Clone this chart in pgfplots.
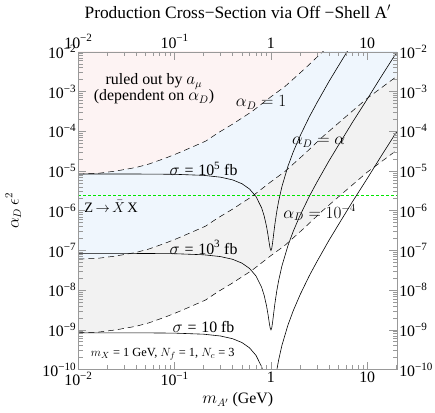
\documentclass[border=0pt]{standalone}
\usepackage{fontspec}
\setmainfont{Liberation Serif}
\usepackage{pgfplots}
\pgfplotsset{compat=1.18}
\usepgfplotslibrary{fillbetween}
\usepackage{pgfplotstable}
\definecolor{rulepink}{HTML}{FDF3F3}
\definecolor{paleblue}{HTML}{EFF6FD}
\definecolor{palegrey}{HTML}{F2F2F2}
\definecolor{framegrey}{HTML}{999999}
\definecolor{zgreen}{RGB}{0,230,0}

% log10 of m_A' (GeV) and of alpha_D eps^2
\pgfplotstableread{
lx      d1      d2      d3
-2.000  -5.075  -7.215  -9.075
-1.800  -5.060  -7.200  -9.060
-1.608  -5.000  -7.140  -9.000
-1.400  -4.910  -7.050  -8.910
-1.268  -4.825  -6.965  -8.825
-1.100  -4.680  -6.820  -8.680
-0.990  -4.575  -6.715  -8.575
-0.850  -4.430  -6.570  -8.430
-0.680  -4.250  -6.390  -8.250
-0.550  -4.040  -6.180  -8.040
-0.402  -3.825  -5.965  -7.825
-0.196  -3.500  -5.640  -7.500
 0.000  -3.130  -5.270  -7.130
 0.144  -2.875  -5.015  -6.875
 0.351  -2.425  -4.565  -6.425
 0.536  -2.000  -4.140  -6.000
 0.750  -1.550  -3.690  -5.550
 1.000  -1.030  -3.170  -5.030
 1.310  -0.470  -2.610  -4.470
}\dashdata

\pgfplotstableread{
lx       s5      s3      s1
-2.000   -5.075  -7.075  -9.075
-1.699   -5.075  -7.075  -9.075
-1.301   -5.077  -7.077  -9.077
-1.000   -5.083  -7.083  -9.083
-0.699   -5.110  -7.110  -9.110
-0.523   -5.156  -7.156  -9.156
-0.398   -5.224  -7.224  -9.224
-0.301   -5.321  -7.321  -9.321
-0.222   -5.455  -7.455  -9.455
-0.155   -5.645  -7.645  -9.645
-0.097   -5.929  -7.929  -9.929
-0.0706  -6.131  -8.131  -10.131
-0.0458  -6.398  -8.398  -10.398
-0.0315  -6.599  -8.599  -10.599
-0.0177  -6.821  -8.821  -10.821
-0.0088  -6.947  -8.947  -10.947
 0.0000  -7.001  -9.001  -11.001
 0.0086  -6.946  -8.946  -10.946
 0.0170  -6.809  -8.809  -10.809
 0.0294  -6.562  -8.562  -10.562
 0.0414  -6.331  -8.331  -10.331
 0.0607  -6.016  -8.016  -10.016
 0.0792  -5.767  -7.767  -9.767
 0.1139  -5.392  -7.392  -9.392
 0.1761  -4.883  -6.883  -8.883
 0.2304  -4.526  -6.526  -8.526
 0.3010  -4.125  -6.125  -8.125
 0.3979  -3.640  -5.640  -7.640
 0.4771  -3.284  -5.284  -7.284
 0.6021  -2.748  -4.748  -6.748
 0.6990  -2.360  -4.360  -6.360
 0.8451  -1.780  -3.780  -5.780
 1.0000  -1.190  -3.190  -5.190
 1.1461  -0.620  -2.620  -4.620
 1.3010  -0.030  -2.030  -4.030
 1.3100  -0.020  -2.020  -4.020
}\sigdata

\pgfplotsset{
  mmaframe/.style={
    scale only axis, width=321pt, height=320pt,
    xmin=-2, xmax=1.31, ymin=-10, ymax=-2,
    axis line style={framegrey, line width=0.6pt},
    tick style={framegrey, line width=0.6pt},
    major tick length=8pt, minor tick length=4.5pt,
    every tick label/.append style={inner sep=2pt},
    xtick={-2,-1,0,1},
    xticklabels={10\textsuperscript{−2},10\textsuperscript{−1},1,10},
    ytick={-10,-9,...,-2},
    yticklabels={10\textsuperscript{−10},10\textsuperscript{−9},10\textsuperscript{−8},10\textsuperscript{−7},10\textsuperscript{−6},10\textsuperscript{−5},10\textsuperscript{−4},10\textsuperscript{−3},10\textsuperscript{−2}},
    minor xtick={-1.69897,-1.52288,-1.39794,-1.30103,-1.22185,-1.15490,-1.09691,-1.04576,
      -0.69897,-0.52288,-0.39794,-0.30103,-0.22185,-0.15490,-0.09691,-0.04576,
      0.30103,0.47712,0.60206,0.69897,0.77815,0.84510,0.90309,0.95424,1.30103},
    minor ytick={-9.69897,-9.52288,-9.39794,-9.30103,-9.22185,-9.15490,-9.09691,-9.04576,
      -8.69897,-8.52288,-8.39794,-8.30103,-8.22185,-8.15490,-8.09691,-8.04576,
      -7.69897,-7.52288,-7.39794,-7.30103,-7.22185,-7.15490,-7.09691,-7.04576,
      -6.69897,-6.52288,-6.39794,-6.30103,-6.22185,-6.15490,-6.09691,-6.04576,
      -5.69897,-5.52288,-5.39794,-5.30103,-5.22185,-5.15490,-5.09691,-5.04576,
      -4.69897,-4.52288,-4.39794,-4.30103,-4.22185,-4.15490,-4.09691,-4.04576,
      -3.69897,-3.52288,-3.39794,-3.30103,-3.22185,-3.15490,-3.09691,-3.04576,
      -2.69897,-2.52288,-2.39794,-2.30103,-2.22185,-2.15490,-2.09691,-2.04576},
  }
}

\begin{document}
\fontsize{16}{18}\selectfont
\begin{tikzpicture}
\begin{axis}[mmaframe,
  xlabel={$m_{A'}$ (GeV)},
  ylabel={$\alpha_D\,\epsilon^2$},
  ylabel style={yshift=14pt},
]
% boundaries (invisible) for the shaded bands
\addplot[name path=top, draw=none, forget plot] coordinates {(-2,0) (1.31,0)};
\addplot[name path=d1, draw=none, forget plot] table[x=lx, y=d1] {\dashdata};
\addplot[name path=d2, draw=none, forget plot] table[x=lx, y=d2] {\dashdata};
\addplot[name path=d3, draw=none, forget plot] table[x=lx, y=d3] {\dashdata};
\addplot[rulepink, draw=none] fill between[of=top and d1];
\addplot[paleblue, draw=none] fill between[of=d1 and d2];
\addplot[palegrey, draw=none] fill between[of=d2 and d3];

% Z -> XX bound
\addplot[draw=zgreen, line width=1.5pt, dash pattern=on 3pt off 2pt] coordinates {(-2,-5.62) (1.31,-5.62)};

% alpha_D contours
\addplot[black, line width=0.5pt, dash pattern=on 6pt off 4pt] table[x=lx, y=d1] {\dashdata};
\addplot[black, line width=0.5pt, dash pattern=on 6pt off 4pt] table[x=lx, y=d2] {\dashdata};
\addplot[black, line width=0.5pt, dash pattern=on 6pt off 4pt] table[x=lx, y=d3] {\dashdata};

% cross-section contours
\addplot[black, line width=0.6pt] table[x=lx, y=s5] {\sigdata};
\addplot[black, line width=0.6pt] table[x=lx, y=s3] {\sigdata};
\addplot[black, line width=0.6pt] table[x=lx, y=s1] {\sigdata};

\node[align=center, font=\fontsize{16}{16.5}\selectfont] at (axis cs:-1.215,-2.93) {ruled out by $a_\mu$\\(dependent on $\alpha_D$)};
\node at (axis cs:-0.103,-3.275) {$\alpha_D = 1$};
\node at (axis cs:0.495,-4.275) {$\alpha_D = \alpha$};
\node at (axis cs:0.505,-6.05) {$\alpha_D = 10^{-4}$};
\node at (axis cs:-0.70,-4.94) {$\sigma$\hspace{0.3em}=\hspace{0.3em}10\textsuperscript{5} fb};
\node at (axis cs:-0.70,-6.925) {$\sigma$\hspace{0.3em}=\hspace{0.3em}10\textsuperscript{3} fb};
\node at (axis cs:-0.70,-8.925) {$\sigma$\hspace{0.3em}=\hspace{0.3em}10 fb};
\node[font=\fontsize{14.5}{16}\selectfont] at (axis cs:-1.66,-5.9) {Z\,$\rightarrow$\,$\bar{X}$\,X};
\node[font=\fontsize{12.5}{14}\selectfont] at (axis cs:-1.124,-9.625) {$m_X$ = 1 GeV, $N_f$ = 1, $N_c$ = 3};
\coordinate (topmid) at (rel axis cs:0.5,1);
\end{axis}
\begin{axis}[mmaframe,
  xticklabel pos=upper,
  yticklabel pos=right,
  xticklabel style={inner sep=3.5pt},
]
\end{axis}
\node[anchor=base, font=\fontsize{17.5}{20}\selectfont] at ([yshift=34pt]topmid) {Production Cross−Section via Off −Shell A$'$};
\end{tikzpicture}
\end{document}
